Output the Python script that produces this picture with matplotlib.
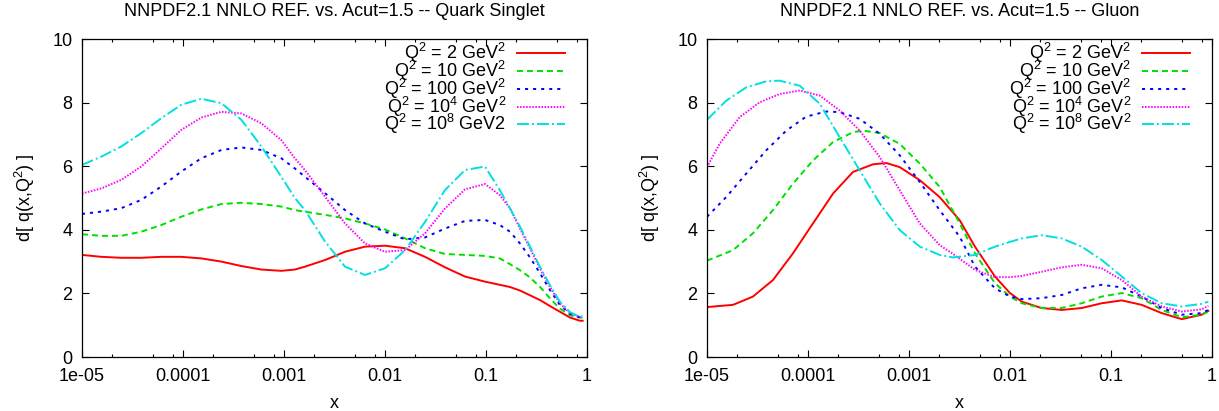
import matplotlib
matplotlib.use("Agg")
import matplotlib.pyplot as plt

plt.rcParams['font.family'] = ['Liberation Sans', 'DejaVu Sans']
plt.rcParams['mathtext.default'] = 'regular'
plt.rcParams['lines.scale_dashes'] = False

# ---- date ----
labels_left = ["Q$^{2}$ = 2 GeV$^{2}$", "Q$^{2}$ = 10 GeV$^{2}$", "Q$^{2}$ = 100 GeV$^{2}$",
               "Q$^{2}$ = 10$^{4}$ GeV$^{2}$", "Q$^{2}$ = 10$^{8}$ GeV2"]
labels_right = ["Q$^{2}$ = 2 GeV$^{2}$", "Q$^{2}$ = 10 GeV$^{2}$", "Q$^{2}$ = 100 GeV$^{2}$",
                "Q$^{2}$ = 10$^{4}$ GeV$^{2}$", "Q$^{2}$ = 10$^{8}$ GeV$^{2}$"]

# Quark Singlet (acelasi x pentru toate curbele)
s_x = [1e-5, 1.55e-5, 2.45e-5, 3.86e-5, 6.1e-5, 9.6e-5, 1.52e-4, 2.4e-4, 3.78e-4, 5.97e-4,
       9.4e-4, 1.28e-3, 1.61e-3, 2.55e-3, 4.02e-3, 6.34e-3, 1e-2, 1.58e-2, 2.49e-2, 3.93e-2,
       6.19e-2, 9.77e-2, 0.137, 0.173, 0.217, 0.273, 0.343, 0.431, 0.541, 0.679, 0.853, 0.906]
s_q2 = [3.21, 3.15, 3.12, 3.12, 3.15, 3.15, 3.10, 3.00, 2.86, 2.75,
        2.71, 2.75, 2.84, 3.05, 3.31, 3.47, 3.50, 3.42, 3.15, 2.82,
        2.53, 2.37, 2.27, 2.20, 2.09, 1.94, 1.79, 1.60, 1.42, 1.24, 1.14, 1.14]
s_q10 = [3.86, 3.81, 3.81, 3.94, 4.15, 4.41, 4.64, 4.81, 4.85, 4.81,
         4.73, 4.62, 4.57, 4.47, 4.36, 4.20, 4.01, 3.73, 3.42, 3.24,
         3.21, 3.18, 3.10, 2.92, 2.73, 2.50, 2.20, 1.84, 1.52, 1.31, 1.24, 1.24]
s_q100 = [4.50, 4.57, 4.68, 4.94, 5.36, 5.83, 6.25, 6.51, 6.59, 6.51,
          6.25, 5.93, 5.67, 5.15, 4.62, 4.20, 3.94, 3.70, 3.76, 4.04,
          4.28, 4.31, 4.15, 3.94, 3.57, 3.13, 2.63, 2.10, 1.63, 1.36, 1.24, 1.24]
s_q1e4 = [5.14, 5.30, 5.57, 5.99, 6.56, 7.14, 7.53, 7.71, 7.66, 7.35,
          6.82, 6.25, 5.88, 5.04, 4.20, 3.57, 3.31, 3.36, 3.89, 4.67,
          5.27, 5.44, 5.09, 4.67, 4.04, 3.41, 2.78, 2.20, 1.68, 1.38, 1.26, 1.26]
s_q1e8 = [6.04, 6.30, 6.62, 7.04, 7.51, 7.93, 8.12, 7.98, 7.46, 6.62,
          5.67, 5.00, 4.62, 3.63, 2.84, 2.58, 2.79, 3.36, 4.25, 5.25,
          5.88, 5.99, 5.25, 4.67, 4.10, 3.47, 2.83, 2.25, 1.73, 1.41, 1.26, 1.28]

# Gluon
g_x_q2 = [1e-5, 1.81e-5, 2.85e-5, 4.5e-5, 7.1e-5, 1.12e-4, 1.77e-4, 2.79e-4, 4.41e-4, 5.97e-4,
          8.1e-4, 1.28e-3, 2.01e-3, 3.18e-3, 4.5e-3, 7.1e-3, 1e-2, 1.31e-2, 2.06e-2, 3.25e-2,
          5.13e-2, 8.09e-2, 0.128, 0.201, 0.318, 0.501, 0.791, 0.92]
g_y_q2 = [1.57, 1.64, 1.90, 2.42, 3.26, 4.20, 5.14, 5.82, 6.06, 6.10,
          5.97, 5.56, 5.03, 4.30, 3.47, 2.53, 2.01, 1.74, 1.54, 1.48,
          1.54, 1.69, 1.78, 1.64, 1.38, 1.19, 1.33, 1.45]
g_x_q10 = [1e-5, 1.81e-5, 2.85e-5, 4.5e-5, 7.1e-5, 1.12e-4, 1.77e-4, 2.79e-4, 3.51e-4, 5.13e-4,
           8.1e-4, 1.28e-3, 2.01e-3, 3.18e-3, 4.5e-3, 7.1e-3, 1e-2, 1.31e-2, 2.06e-2, 3.25e-2,
           5.13e-2, 8.09e-2, 0.128, 0.201, 0.318, 0.501, 0.791, 0.92]
g_y_q10 = [3.03, 3.36, 3.89, 4.62, 5.45, 6.18, 6.76, 7.07, 7.12, 7.04,
           6.70, 6.08, 5.35, 4.20, 3.26, 2.32, 1.90, 1.69, 1.54, 1.54,
           1.69, 1.90, 2.01, 1.85, 1.48, 1.25, 1.33, 1.43]
g_x_q100 = [1e-5, 1.55e-5, 2.45e-5, 3.86e-5, 6.1e-5, 9.6e-5, 1.52e-4, 2.06e-4, 3.25e-4, 5.13e-4,
            8.1e-4, 1.28e-3, 2.01e-3, 3.18e-3, 4.5e-3, 7.1e-3, 1e-2, 1.31e-2, 2.06e-2, 3.25e-2,
            5.13e-2, 8.09e-2, 0.128, 0.201, 0.318, 0.501, 0.791, 0.92]
g_y_q100 = [4.41, 5.03, 5.77, 6.50, 7.12, 7.56, 7.72, 7.70, 7.49, 7.02,
            6.34, 5.50, 4.62, 3.78, 2.84, 2.16, 1.90, 1.82, 1.85, 1.95,
            2.16, 2.27, 2.19, 1.90, 1.54, 1.33, 1.38, 1.48]
g_x_q1e4 = [1e-5, 1.33e-5, 2.1e-5, 3.32e-5, 5.24e-5, 8.3e-5, 1.31e-4, 2.06e-4, 3.25e-4, 5.13e-4,
            8.1e-4, 1.28e-3, 2.01e-3, 2.73e-3, 4.5e-3, 7.1e-3, 1e-2, 1.31e-2, 2.06e-2, 3.25e-2,
            5.13e-2, 8.09e-2, 0.128, 0.201, 0.318, 0.501, 0.791, 0.92]
g_y_q1e4 = [5.97, 6.70, 7.54, 8.01, 8.27, 8.38, 8.22, 7.75, 7.12, 6.29,
            5.24, 4.20, 3.52, 3.24, 2.74, 2.51, 2.51, 2.55, 2.68, 2.82,
            2.90, 2.79, 2.42, 1.90, 1.59, 1.43, 1.50, 1.61]
g_x_q1e8 = [1e-5, 1.55e-5, 2.45e-5, 3.86e-5, 5.24e-5, 8.3e-5, 1.31e-4, 2.06e-4, 3.25e-4, 5.13e-4,
            8.1e-4, 1.28e-3, 2.01e-3, 2.73e-3, 4.5e-3, 7.1e-3, 1e-2, 1.31e-2, 2.06e-2, 3.25e-2,
            5.13e-2, 8.09e-2, 0.128, 0.201, 0.318, 0.501, 0.791, 0.92]
g_y_q1e8 = [7.46, 8.06, 8.48, 8.67, 8.69, 8.53, 7.96, 6.91, 5.87, 4.83,
            3.99, 3.47, 3.21, 3.13, 3.21, 3.47, 3.62, 3.73, 3.83, 3.73,
            3.47, 3.05, 2.53, 2.01, 1.69, 1.59, 1.67, 1.74]

xticks = [1e-5, 1e-4, 1e-3, 1e-2, 1e-1, 1]
xtick_labels = ["1e-05", "0.0001", "0.001", "0.01", "0.1", "1"]
yticks = [0, 2, 4, 6, 8, 10]

culori = ['#ff0000', '#00e000', '#0000ff', '#ff00ff', '#00e0e0']
stiluri = ['-', (0, (4.3, 2.9)), (0, (2.2, 3.6)), (0, (1.1, 1.1)), (0, (8.6, 2.2, 1.4, 2.2))]

W, H = 1219, 411
fig = plt.figure(figsize=(W / 100, H / 100), dpi=100)
ax1 = fig.add_axes([82 / W, 54 / H, 505 / W, 318 / H])
ax2 = fig.add_axes([707 / W, 54 / H, 505 / W, 318 / H])


def deseneaza(ax, serii, etichete, titlu):
    for i, (xs, ys) in enumerate(serii):
        ax.plot(xs, ys, color=culori[i], linestyle=stiluri[i], lw=1.4)
    ax.set_xscale('log')
    ax.set_xlim(1e-5, 1)
    ax.set_ylim(0, 10)
    ax.set_xticks(xticks)
    ax.set_xticklabels(xtick_labels)
    minori = [m * 10.0 ** e for e in range(-5, 0) for m in (2, 5, 8)]
    ax.set_xticks(minori, minor=True)
    ax.set_xticklabels([], minor=True)
    ax.set_yticks(yticks)
    ax.tick_params(which='both', direction='in', top=True, right=True, labelsize=13)
    ax.tick_params(which='major', length=5, width=0.8)
    ax.tick_params(which='minor', length=2.5, width=0.8)
    ax.tick_params(axis='x', pad=8)
    ax.tick_params(axis='y', pad=7)
    for sp in ax.spines.values():
        sp.set_linewidth(0.9)
    ax.set_xlabel("x", fontsize=13)
    ax.xaxis.set_label_coords(0.5, -0.145)
    ax.xaxis.label.set_va('center')
    ax.set_ylabel("d[ q(x,Q$^{2}$) ]", fontsize=13)
    ax.yaxis.set_label_coords(-0.112, 0.5)
    ax.yaxis.label.set_va('center')

    poz = ax.get_position()
    fig.text((poz.x0 + poz.x1) / 2, 1 - 12 / H, titlu, ha='center', va='center', fontsize=13)

    # legenda in stil gnuplot (text aliniat la dreapta)
    for i, et in enumerate(etichete):
        yy = 1 - (14.3 + 17.75 * i) / 318
        ax.plot([0.862, 0.957], [yy, yy], transform=ax.transAxes, color=culori[i],
                linestyle=stiluri[i], lw=1.4, clip_on=False)
        ax.text(0.84, yy, et, transform=ax.transAxes, ha='right', va='center', fontsize=13)


deseneaza(ax1, [(s_x, s_q2), (s_x, s_q10), (s_x, s_q100), (s_x, s_q1e4), (s_x, s_q1e8)],
          labels_left, "NNPDF2.1 NNLO REF. vs. Acut=1.5 -- Quark Singlet")
deseneaza(ax2, [(g_x_q2, g_y_q2), (g_x_q10, g_y_q10), (g_x_q100, g_y_q100),
                (g_x_q1e4, g_y_q1e4), (g_x_q1e8, g_y_q1e8)],
          labels_right, "NNPDF2.1 NNLO REF. vs. Acut=1.5 -- Gluon")

fig.savefig("out.png", dpi=100)
